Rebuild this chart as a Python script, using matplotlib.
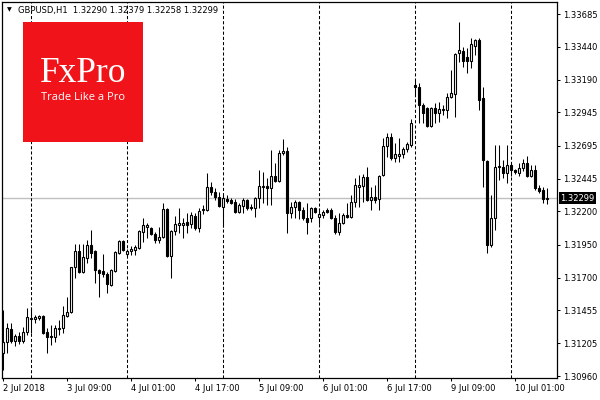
import matplotlib
matplotlib.use("Agg")
import matplotlib.pyplot as plt
import matplotlib.transforms as mtransforms
from matplotlib.patches import Rectangle
import numpy as np

plt.rcParams["font.family"] = "DejaVu Sans"

# GBPUSD H1 candles, 2 Jul 2018 17:00 .. 10 Jul 2018 09:00
opens = [
    1.31133, 1.31216, 1.31314, 1.31223, 1.31261, 1.31223, 1.31291, 1.31389,
    1.31389, 1.31396, 1.31412, 1.31291, 1.31261, 1.31253, 1.31314, 1.31321,
    1.31412, 1.31442, 1.31780, 1.31901, 1.31743, 1.31848, 1.31946, 1.31901,
    1.31758, 1.31750, 1.31728, 1.31645, 1.31750, 1.31886, 1.31976, 1.31878,
    1.31901, 1.31908, 1.31924, 1.32044, 1.32082, 1.32074, 1.32029, 1.31984,
    1.32006, 1.32217, 1.31863, 1.32052, 1.32097, 1.32097, 1.32119, 1.32104,
    1.32165, 1.32074, 1.32210, 1.32210, 1.32383, 1.32345, 1.32308, 1.32232,
    1.32293, 1.32285, 1.32270, 1.32195, 1.32240, 1.32285, 1.32232, 1.32225,
    1.32300, 1.32383, 1.32390, 1.32375, 1.32466, 1.32428, 1.32639, 1.32654,
    1.32187, 1.32232, 1.32270, 1.32210, 1.32149, 1.32149, 1.32225, 1.32157,
    1.32172, 1.32210, 1.32210, 1.32149, 1.32044, 1.32112, 1.32172, 1.32157,
    1.32270, 1.32383, 1.32390, 1.32458, 1.32285, 1.32308, 1.32293, 1.32473,
    1.32692, 1.32759, 1.32601, 1.32616, 1.32631, 1.32669, 1.32699, 1.33151,
    1.33136, 1.33000, 1.32978, 1.32842, 1.32978, 1.32940, 1.32963, 1.32963,
    1.33061, 1.33083, 1.33392, 1.33407, 1.33362, 1.33332, 1.33445, 1.33490,
    1.33053, 1.32579, 1.31946, 1.32149, 1.32533, 1.32533, 1.32488, 1.32549,
    1.32511, 1.32488, 1.32526, 1.32564, 1.32466, 1.32511, 1.32375, 1.32360,
    1.32290,
]
highs = [
    1.31457, 1.31359, 1.31359, 1.31276, 1.31291, 1.31329, 1.31472, 1.31479,
    1.31419, 1.31419, 1.31419, 1.31321, 1.31344, 1.31344, 1.31381, 1.31487,
    1.31555, 1.31780, 1.31954, 1.31954, 1.31954, 1.31984, 1.32059, 1.31908,
    1.31765, 1.31878, 1.31743, 1.31765, 1.31901, 1.31984, 1.31984, 1.31916,
    1.31939, 1.31946, 1.32059, 1.32149, 1.32112, 1.32082, 1.32044, 1.32082,
    1.32262, 1.32225, 1.32059, 1.32165, 1.32225, 1.32149, 1.32187, 1.32195,
    1.32187, 1.32225, 1.32247, 1.32488, 1.32421, 1.32375, 1.32345, 1.32323,
    1.32323, 1.32300, 1.32293, 1.32262, 1.32300, 1.32293, 1.32255, 1.32308,
    1.32511, 1.32496, 1.32451, 1.32661, 1.32564, 1.32661, 1.32744, 1.32684,
    1.32270, 1.32285, 1.32277, 1.32232, 1.32262, 1.32232, 1.32232, 1.32225,
    1.32210, 1.32225, 1.32225, 1.32172, 1.32187, 1.32187, 1.32262, 1.32323,
    1.32451, 1.32473, 1.32481, 1.32533, 1.32383, 1.32398, 1.32473, 1.32752,
    1.32790, 1.32790, 1.32714, 1.32752, 1.32684, 1.32722, 1.32895, 1.33189,
    1.33166, 1.33015, 1.32985, 1.32985, 1.33015, 1.33023, 1.33000, 1.33091,
    1.33264, 1.33392, 1.33625, 1.33437, 1.33430, 1.33505, 1.33497, 1.33505,
    1.33136, 1.32586, 1.32323, 1.32699, 1.32699, 1.32586, 1.32699, 1.32564,
    1.32518, 1.32564, 1.32594, 1.32616, 1.32549, 1.32549, 1.32398, 1.32383,
    1.32379,
]
lows = [
    1.31005, 1.31133, 1.31208, 1.31186, 1.31201, 1.31208, 1.31268, 1.31284,
    1.31359, 1.31381, 1.31276, 1.31133, 1.31193, 1.31216, 1.31268, 1.31284,
    1.31404, 1.31434, 1.31698, 1.31735, 1.31735, 1.31811, 1.31848, 1.31660,
    1.31555, 1.31705, 1.31585, 1.31637, 1.31743, 1.31878, 1.31901, 1.31863,
    1.31871, 1.31871, 1.31916, 1.31969, 1.31999, 1.32021, 1.31961, 1.31961,
    1.31999, 1.31856, 1.31698, 1.32021, 1.32037, 1.31999, 1.32037, 1.32074,
    1.32059, 1.32044, 1.32180, 1.32202, 1.32323, 1.32285, 1.32232, 1.32082,
    1.32262, 1.32255, 1.32187, 1.32187, 1.32187, 1.32210, 1.32210, 1.32157,
    1.32225, 1.32262, 1.32247, 1.32247, 1.32421, 1.32421, 1.32624, 1.32037,
    1.32149, 1.32149, 1.32142, 1.32134, 1.32029, 1.32119, 1.32187, 1.32104,
    1.32149, 1.32187, 1.32142, 1.32029, 1.32021, 1.32104, 1.32149, 1.32149,
    1.32232, 1.32232, 1.32270, 1.32277, 1.32210, 1.32262, 1.32210, 1.32466,
    1.32609, 1.32586, 1.32571, 1.32571, 1.32601, 1.32646, 1.32684, 1.33076,
    1.32865, 1.32865, 1.32835, 1.32835, 1.32865, 1.32872, 1.32925, 1.32902,
    1.33053, 1.32910, 1.33324, 1.33286, 1.33241, 1.33279, 1.33377, 1.32963,
    1.32383, 1.31886, 1.31931, 1.32059, 1.32436, 1.32451, 1.32413, 1.32466,
    1.32481, 1.32466, 1.32503, 1.32458, 1.32458, 1.32360, 1.32338, 1.32262,
    1.32258,
]
closes = [
    1.31216, 1.31321, 1.31223, 1.31261, 1.31223, 1.31291, 1.31404, 1.31396,
    1.31404, 1.31412, 1.31284, 1.31253, 1.31253, 1.31321, 1.31321, 1.31419,
    1.31442, 1.31780, 1.31901, 1.31743, 1.31856, 1.31946, 1.31886, 1.31758,
    1.31735, 1.31728, 1.31652, 1.31758, 1.31893, 1.31976, 1.31908, 1.31901,
    1.31916, 1.31931, 1.32052, 1.32097, 1.32097, 1.32029, 1.31984, 1.32006,
    1.32217, 1.31863, 1.32052, 1.32104, 1.32112, 1.32112, 1.32097, 1.32172,
    1.32074, 1.32202, 1.32217, 1.32383, 1.32345, 1.32308, 1.32240, 1.32300,
    1.32277, 1.32262, 1.32195, 1.32247, 1.32285, 1.32225, 1.32225, 1.32300,
    1.32390, 1.32390, 1.32375, 1.32466, 1.32428, 1.32639, 1.32654, 1.32187,
    1.32232, 1.32270, 1.32210, 1.32149, 1.32119, 1.32225, 1.32195, 1.32180,
    1.32195, 1.32195, 1.32149, 1.32044, 1.32112, 1.32172, 1.32157, 1.32270,
    1.32398, 1.32398, 1.32458, 1.32285, 1.32308, 1.32285, 1.32466, 1.32692,
    1.32759, 1.32601, 1.32631, 1.32631, 1.32669, 1.32707, 1.32865, 1.33136,
    1.33000, 1.32940, 1.32842, 1.32978, 1.32940, 1.32970, 1.32970, 1.33061,
    1.33091, 1.33384, 1.33414, 1.33332, 1.33332, 1.33460, 1.33490, 1.33038,
    1.32586, 1.31946, 1.32149, 1.32533, 1.32541, 1.32488, 1.32549, 1.32511,
    1.32496, 1.32526, 1.32564, 1.32466, 1.32511, 1.32375, 1.32353, 1.32293,
    1.32299,
]

# axis annotations
x_tick_pos = [0, 16, 32, 48, 64, 80, 96, 112, 128]
x_tick_labels = ["2 Jul 2018", "3 Jul 09:00", "4 Jul 01:00", "4 Jul 17:00",
                 "5 Jul 09:00", "6 Jul 01:00", "6 Jul 17:00", "9 Jul 09:00",
                 "10 Jul 01:00"]
day_breaks = [7, 31, 55, 79, 103, 127]
price_ticks = [1.33685, 1.33440, 1.33190, 1.32945, 1.32695, 1.32445,
               1.32200, 1.31950, 1.31700, 1.31455, 1.31205, 1.30960]
last_price = 1.32299
header = "GBPUSD,H1  1.32290 1.32379 1.32258 1.32299"


def save(fig, filename):
    fig.savefig(filename, dpi=100)
    plt.close(fig)


def draw_chart():
    W, H = 600, 400
    fig = plt.figure(figsize=(6, 4), dpi=100)
    ax = fig.add_axes([2 / W, 22 / H, 555 / W, 376 / H])

    o, h = np.asarray(opens), np.asarray(highs)
    l, c = np.asarray(lows), np.asarray(closes)
    x = np.arange(len(o))
    up = c >= o

    # current price line behind the candles
    ax.axhline(last_price, color="#c0c0c0", lw=1.0, zorder=1)
    for d in day_breaks:
        ax.axvline(d, color="black", lw=0.75, ls=(0, (3, 2)), zorder=2)

    ax.vlines(x, l, h, color="black", lw=0.75, zorder=3)
    bottom = np.minimum(o, c)
    height = np.abs(c - o)
    ax.bar(x[up], height[up], bottom=bottom[up], width=0.5,
           color="white", edgecolor="black", lw=0.8, zorder=4)
    ax.bar(x[~up], height[~up], bottom=bottom[~up], width=0.5,
           color="black", edgecolor="black", lw=0.8, zorder=4)

    ax.set_xlim(-0.25, 138.5)
    ax.set_ylim(1.30945, 1.33776)

    ax.yaxis.tick_right()
    ax.set_yticks(price_ticks)
    ax.set_yticklabels([f"{p:.5f}" for p in price_ticks])
    ax.set_xticks(x_tick_pos)
    ax.set_xticklabels(x_tick_labels, ha="left")
    ax.tick_params(axis="y", direction="out", length=2.5, width=0.75,
                   labelsize=6, pad=2)
    ax.tick_params(axis="x", direction="out", length=2.5, width=0.75,
                   labelsize=6, pad=1.5)
    for s in ax.spines.values():
        s.set_linewidth(0.9)

    # last price box on the right scale
    trans = mtransforms.blended_transform_factory(ax.transAxes, ax.transData)
    ax.text(1.006, last_price, f"{last_price:.5f}", transform=trans,
            color="white", fontsize=6, va="center", ha="left",
            bbox=dict(facecolor="black", edgecolor="none", pad=1.2),
            clip_on=False, zorder=6)

    # header
    fig.text(9 / W, 1 - 10 / H, "\u25bc", fontsize=4.5, va="center", ha="center")
    fig.text(18 / W, 1 - 10 / H, header, fontsize=6, va="center", ha="left")

    # FxPro logo block
    fig.add_artist(Rectangle((23 / W, 1 - 142 / H), 120 / W, 120 / H,
                             transform=fig.transFigure, facecolor="#f0141a",
                             edgecolor="none", zorder=5))
    fig.text(83 / W, 1 - 74 / H, "FxPro", color="white", fontsize=25.5,
             family="Liberation Serif", va="center", ha="center", zorder=6)
    fig.text(83 / W, 1 - 97 / H, "Trade Like a Pro", color="white",
             fontsize=8, family="Open Sans", va="center", ha="center",
             zorder=6)

    save(fig, "out.png")


if __name__ == "__main__":
    draw_chart()
